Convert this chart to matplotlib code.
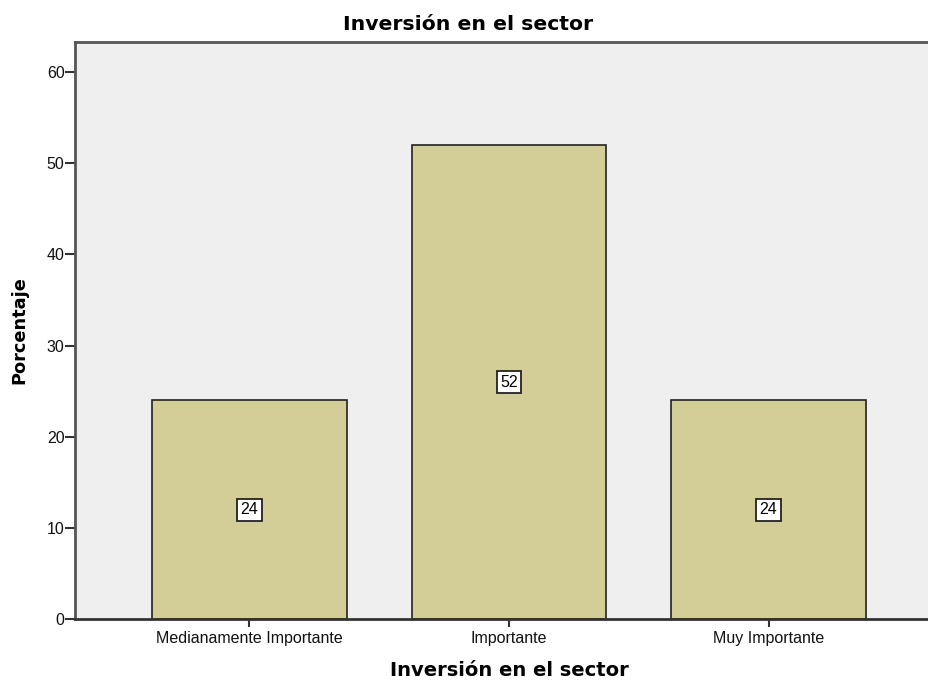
import matplotlib.pyplot as plt

# Datos del gráfico
categorias = ['Medianamente Importante', 'Importante', 'Muy Importante']
porcentajes = [24, 52, 24]
etiquetas = ['24', '52', '24']

fig = plt.figure(figsize=(9.29, 6.8), dpi=100)
# área de trazado: x 75..929 px, y 42..619 px
ax = fig.add_axes([75 / 929, 1 - 619 / 680, (929 - 75) / 929, (619 - 42) / 680])
ax.set_facecolor('#EFEFEF')

x = range(len(categorias))
ax.bar(x, porcentajes, width=0.75, color='#D3CE97', edgecolor='#222222', linewidth=1.2, zorder=2)

for xi, v, lab in zip(x, porcentajes, etiquetas):
    ax.text(xi, v / 2, lab, ha='center', va='center', fontsize=11.5,
            family='Liberation Sans', zorder=3,
            bbox=dict(boxstyle='square,pad=0.22', facecolor='white', edgecolor='#222222', linewidth=1.3))

ax.set_xlim(-0.672, 2.618)
ax.set_ylim(0, 63.3)
ax.set_yticks([0, 10, 20, 30, 40, 50, 60])
ax.set_xticks(list(x))
ax.set_xticklabels(categorias)

for lab in ax.get_xticklabels() + ax.get_yticklabels():
    lab.set_family('Liberation Sans')
    lab.set_fontsize(11.5)
    lab.set_color('#111111')

ax.tick_params(axis='y', length=7, width=1.5, color='#333333', pad=0.5)
ax.tick_params(axis='x', length=6, width=1.5, color='#333333', pad=3)

ax.spines['right'].set_visible(False)
for s in ['left', 'top', 'bottom']:
    ax.spines[s].set_linewidth(2)
    ax.spines[s].set_color('#555555')
ax.spines['bottom'].set_color('#333333')

fig.text(468 / 929, 1 - 25 / 680, 'Inversión en el sector', ha='center', va='center',
         fontsize=14.7, fontweight='bold')
fig.text(509 / 929, 1 - 670 / 680, 'Inversión en el sector', ha='center', va='center',
         fontsize=14, fontweight='bold')
fig.text(19 / 929, 1 - 330 / 680, 'Porcentaje', ha='center', va='center', rotation=90,
         fontsize=12.8, fontweight='bold')

fig.savefig('out.png', dpi=100)
